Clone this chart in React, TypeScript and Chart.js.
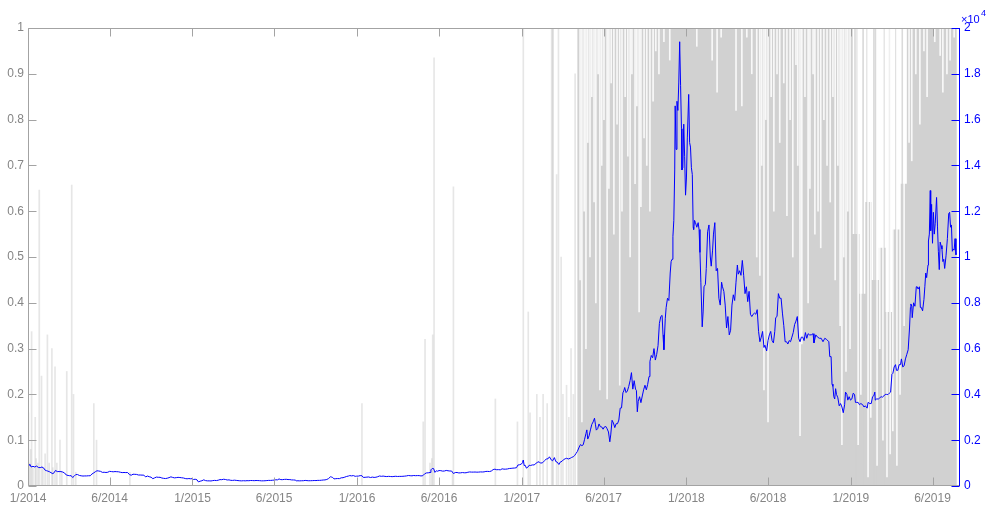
import React, { useEffect, useRef } from 'react';
import { Chart, registerables } from 'chart.js';

Chart.register(...registerables);

// ---------------- data ----------------
const START_ISO = '2014-01-01';
const X_MAX_DAY = 2068;

const xTickDates = ['2014-01-01', '2014-07-01', '2015-01-01', '2015-07-01', '2016-01-01', '2016-07-01', '2017-01-01', '2017-07-01', '2018-01-01', '2018-07-01', '2019-01-01', '2019-07-01'];
const xTickLabels = ['1/2014', '6/2014', '1/2015', '6/2015', '1/2016', '6/2016', '1/2017', '6/2017', '1/2018', '6/2018', '1/2019', '6/2019'];

const leftTicks = [0, 0.1, 0.2, 0.3, 0.4, 0.5, 0.6, 0.7, 0.8, 0.9, 1];
const leftTickLabels = ['0', '0.1', '0.2', '0.3', '0.4', '0.5', '0.6', '0.7', '0.8', '0.9', '1'];
const rightTicks = [0, 2000, 4000, 6000, 8000, 10000, 12000, 14000, 16000, 18000, 20000];
const rightTickLabels = ['0', '0.2', '0.4', '0.6', '0.8', '1', '1.2', '1.4', '1.6', '1.8', '2'];

// price (right axis), [MM-DD, value]
const btc2014: [string, number][] = [
  ['01-01', 815], ['01-05', 950], ['01-08', 830], ['01-12', 860], ['01-16', 830], ['01-20', 870], ['01-24', 810], ['01-28', 800],
  ['02-01', 830], ['02-05', 780], ['02-08', 690], ['02-11', 670], ['02-14', 650], ['02-18', 620], ['02-21', 580], ['02-25', 540], ['02-28', 580],
  ['03-03', 680], ['03-07', 630], ['03-11', 630], ['03-15', 630], ['03-19', 610], ['03-23', 570], ['03-27', 480], ['03-31', 460],
  ['04-03', 450], ['04-07', 450], ['04-10', 370], ['04-13', 420], ['04-17', 500], ['04-21', 500], ['04-25', 460], ['04-29', 445],
  ['05-03', 435], ['05-07', 440], ['05-11', 440], ['05-15', 447], ['05-19', 447], ['05-23', 525], ['05-27', 575], ['05-31', 630],
  ['06-03', 665], ['06-07', 655], ['06-11', 640], ['06-15', 595], ['06-19', 600], ['06-23', 590], ['06-27', 600],
  ['07-01', 640], ['07-05', 630], ['07-09', 620], ['07-13', 630], ['07-17', 625], ['07-21', 620], ['07-25', 600], ['07-29', 585],
  ['08-02', 590], ['08-06', 585], ['08-10', 590], ['08-14', 500], ['08-18', 470], ['08-22', 515], ['08-26', 510], ['08-30', 505],
  ['09-03', 480], ['09-07', 480], ['09-11', 475], ['09-15', 475], ['09-19', 395], ['09-23', 435], ['09-27', 405],
  ['10-01', 385], ['10-05', 320], ['10-09', 355], ['10-13', 390], ['10-17', 380], ['10-21', 380], ['10-25', 350], ['10-29', 335],
  ['11-02', 325], ['11-06', 340], ['11-10', 365], ['11-14', 400], ['11-18', 375], ['11-22', 355], ['11-26', 365], ['11-30', 378],
  ['12-04', 370], ['12-08', 360], ['12-12', 350], ['12-16', 325], ['12-20', 315], ['12-24', 325], ['12-28', 315], ['12-31', 320],
];
const btc2015: [string, number][] = [
  ['01-03', 285], ['01-07', 295], ['01-11', 270], ['01-14', 180], ['01-18', 210], ['01-22', 230], ['01-26', 270], ['01-30', 235],
  ['02-03', 225], ['02-07', 225], ['02-11', 220], ['02-15', 235], ['02-19', 245], ['02-23', 237], ['02-27', 253],
  ['03-03', 280], ['03-07', 275], ['03-11', 295], ['03-15', 285], ['03-19', 262], ['03-23', 268], ['03-27', 247], ['03-31', 244],
  ['04-04', 254], ['04-08', 245], ['04-12', 236], ['04-16', 228], ['04-20', 224], ['04-24', 231], ['04-28', 225],
  ['05-02', 233], ['05-06', 230], ['05-10', 240], ['05-14', 237], ['05-18', 233], ['05-22', 240], ['05-26', 237], ['05-30', 233],
  ['06-03', 225], ['06-07', 226], ['06-11', 229], ['06-15', 237], ['06-19', 245], ['06-23', 244], ['06-27', 250],
  ['07-01', 258], ['07-05', 271], ['07-09', 270], ['07-12', 310], ['07-16', 278], ['07-20', 278], ['07-24', 288], ['07-28', 293],
  ['08-01', 281], ['08-05', 281], ['08-09', 265], ['08-13', 264], ['08-17', 258], ['08-19', 226], ['08-23', 228], ['08-27', 224], ['08-31', 229],
  ['09-04', 230], ['09-08', 244], ['09-12', 235], ['09-16', 229], ['09-20', 231], ['09-24', 234], ['09-28', 239],
  ['10-02', 237], ['10-06', 246], ['10-10', 245], ['10-14', 252], ['10-18', 262], ['10-22', 266], ['10-26', 285], ['10-30', 326],
  ['11-03', 402], ['11-05', 395], ['11-08', 373], ['11-11', 310], ['11-15', 320], ['11-19', 325], ['11-23', 322], ['11-27', 357],
  ['12-01', 362], ['12-05', 388], ['12-09', 417], ['12-13', 435], ['12-16', 455], ['12-20', 442], ['12-24', 455], ['12-28', 423], ['12-31', 430],
];
const btc2016: [string, number][] = [
  ['01-04', 433], ['01-08', 453], ['01-12', 449], ['01-15', 375], ['01-19', 380], ['01-23', 388], ['01-27', 395], ['01-31', 369],
  ['02-04', 389], ['02-08', 374], ['02-12', 383], ['02-16', 405], ['02-20', 438], ['02-24', 423], ['02-28', 433],
  ['03-03', 420], ['03-07', 412], ['03-11', 421], ['03-15', 416], ['03-19', 408], ['03-23', 418], ['03-27', 425], ['03-31', 416],
  ['04-04', 420], ['04-08', 420], ['04-12', 424], ['04-16', 431], ['04-20', 441], ['04-24', 459], ['04-28', 449],
  ['05-02', 444], ['05-06', 459], ['05-10', 450], ['05-14', 455], ['05-18', 454], ['05-22', 439], ['05-26', 449], ['05-30', 530],
  ['06-03', 570], ['06-07', 575], ['06-11', 590], ['06-13', 705], ['06-16', 765], ['06-19', 760], ['06-22', 595], ['06-25', 665], ['06-28', 645],
  ['07-01', 675], ['07-05', 670], ['07-09', 650], ['07-13', 655], ['07-17', 680], ['07-21', 665], ['07-25', 655], ['07-29', 655],
  ['08-02', 545], ['08-06', 587], ['08-10', 590], ['08-14', 570], ['08-18', 575], ['08-22', 587], ['08-26', 577], ['08-30', 578],
  ['09-03', 600], ['09-07', 614], ['09-11', 607], ['09-15', 607], ['09-19', 610], ['09-23', 604], ['09-27', 607],
  ['10-01', 615], ['10-05', 612], ['10-09', 617], ['10-13', 636], ['10-17', 638], ['10-21', 631], ['10-25', 653], ['10-29', 715],
  ['11-02', 735], ['11-06', 710], ['11-10', 715], ['11-14', 705], ['11-18', 750], ['11-22', 735], ['11-26', 735], ['11-30', 745],
  ['12-04', 765], ['12-08', 770], ['12-12', 780], ['12-16', 785], ['12-20', 800], ['12-23', 915], ['12-27', 930], ['12-31', 960],
];
const btc2017: [string, number][] = [
  ['01-02', 1020], ['01-04', 1135], ['01-06', 890], ['01-08', 910], ['01-11', 780], ['01-14', 820], ['01-17', 905], ['01-20', 895], ['01-24', 920], ['01-28', 920],
  ['02-01', 985], ['02-04', 1030], ['02-08', 1060], ['02-11', 1000], ['02-15', 1010], ['02-18', 1055], ['02-21', 1120], ['02-24', 1180], ['02-28', 1190],
  ['03-03', 1275], ['03-07', 1140], ['03-10', 1100], ['03-14', 1240], ['03-17', 1070], ['03-20', 1045], ['03-24', 940], ['03-27', 1045], ['03-31', 1080],
  ['04-03', 1145], ['04-07', 1190], ['04-10', 1210], ['04-14', 1180], ['04-18', 1210], ['04-21', 1245], ['04-25', 1280], ['04-28', 1330],
  ['05-01', 1420], ['05-04', 1510], ['05-08', 1700], ['05-11', 1810], ['05-14', 1760], ['05-17', 1800], ['05-20', 2040], ['05-23', 2290], ['05-25', 2450], ['05-27', 2050], ['05-30', 2190],
  ['06-02', 2450], ['06-05', 2690], ['06-08', 2800], ['06-11', 2960], ['06-13', 2700], ['06-15', 2440], ['06-18', 2500], ['06-21', 2710], ['06-24', 2590], ['06-27', 2580], ['06-30', 2480],
  ['07-03', 2580], ['07-06', 2600], ['07-09', 2500], ['07-12', 2360], ['07-15', 1930], ['07-17', 2230], ['07-20', 2870], ['07-23', 2750], ['07-26', 2550], ['07-29', 2720],
  ['08-01', 2720], ['08-04', 2880], ['08-07', 3400], ['08-10', 3410], ['08-13', 4070], ['08-15', 4150], ['08-17', 4300], ['08-20', 4080], ['08-23', 4150], ['08-26', 4350], ['08-29', 4600],
  ['09-01', 4950], ['09-04', 4230], ['09-07', 4600], ['09-10', 4230], ['09-12', 4170], ['09-14', 3240], ['09-16', 3700], ['09-19', 3900], ['09-22', 3640], ['09-25', 3930], ['09-28', 4200],
  ['10-01', 4400], ['10-04', 4200], ['10-07', 4440], ['10-10', 4780], ['10-12', 5440], ['10-15', 5700], ['10-18', 5600], ['10-21', 6000], ['10-24', 5500], ['10-27', 5750], ['10-30', 6130],
  ['11-02', 7100], ['11-05', 7400], ['11-08', 7450], ['11-10', 6600], ['11-12', 5950], ['11-15', 7300], ['11-17', 7800], ['11-20', 8200], ['11-23', 8100], ['11-26', 9300], ['11-28', 9800], ['11-30', 9900],
  ['12-02', 10900], ['12-04', 11600], ['12-06', 13800], ['12-07', 16600], ['12-09', 14700], ['12-11', 16800], ['12-13', 16400], ['12-15', 17600], ['12-17', 19400], ['12-19', 17500],
  ['12-21', 15600], ['12-22', 13800], ['12-24', 13900], ['12-26', 15800], ['12-28', 14400], ['12-30', 12700],
];
const btc2018: [string, number][] = [
  ['01-01', 13450], ['01-03', 15200], ['01-06', 17100], ['01-08', 15000], ['01-10', 14800], ['01-12', 13900], ['01-14', 13600], ['01-16', 11300], ['01-17', 11200],
  ['01-19', 11600], ['01-21', 11500], ['01-24', 11300], ['01-27', 11500], ['01-29', 11200], ['01-31', 10200],
  ['02-02', 8900], ['02-05', 6950], ['02-07', 7600], ['02-09', 8700], ['02-12', 8800], ['02-14', 9500], ['02-17', 11100], ['02-20', 11400], ['02-23', 10000], ['02-25', 9600], ['02-28', 10300],
  ['03-02', 11000], ['03-05', 11500], ['03-08', 9400], ['03-11', 9500], ['03-14', 8200], ['03-17', 7900], ['03-20', 8900], ['03-22', 8700], ['03-25', 8500], ['03-28', 7900], ['03-31', 6900],
  ['04-03', 7400], ['04-06', 6600], ['04-09', 6800], ['04-12', 7900], ['04-15', 8350], ['04-18', 8100], ['04-21', 8900], ['04-24', 9650], ['04-26', 9250], ['04-29', 9400],
  ['05-02', 9200], ['05-05', 9850], ['05-08', 9200], ['05-11', 8400], ['05-14', 8700], ['05-17', 8050], ['05-20', 8500], ['05-23', 7500], ['05-26', 7400], ['05-29', 7500],
  ['06-01', 7550], ['06-04', 7500], ['06-07', 7700], ['06-10', 6750], ['06-13', 6300], ['06-16', 6500], ['06-19', 6750], ['06-22', 6050], ['06-24', 6150], ['06-28', 5900],
  ['07-01', 6350], ['07-04', 6600], ['07-07', 6750], ['07-10', 6350], ['07-13', 6250], ['07-16', 6750], ['07-18', 7350], ['07-21', 7400], ['07-24', 8400], ['07-27', 8200], ['07-30', 8200],
  ['08-02', 7550], ['08-05', 7000], ['08-08', 6300], ['08-11', 6300], ['08-14', 6200], ['08-17', 6350], ['08-20', 6300], ['08-23', 6500], ['08-26', 6700], ['08-29', 7050],
  ['09-01', 7200], ['09-04', 7400], ['09-07', 6450], ['09-10', 6300], ['09-13', 6500], ['09-16', 6500], ['09-19', 6350], ['09-22', 6700], ['09-25', 6450], ['09-28', 6650],
  ['10-01', 6600], ['10-05', 6600], ['10-09', 6650], ['10-11', 6250], ['10-15', 6600], ['10-19', 6500], ['10-23', 6450], ['10-27', 6450], ['10-31', 6300],
  ['11-04', 6450], ['11-08', 6400], ['11-13', 6300], ['11-15', 5650], ['11-18', 5650], ['11-20', 4450], ['11-22', 4350], ['11-24', 3900], ['11-26', 3800], ['11-28', 4250], ['11-30', 4000],
  ['12-03', 3850], ['12-06', 3500], ['12-09', 3600], ['12-12', 3450], ['12-15', 3200], ['12-18', 3550], ['12-20', 4100], ['12-23', 4000], ['12-25', 3750], ['12-28', 3900], ['12-31', 3750],
];
const btc2019: [string, number][] = [
  ['01-03', 3800], ['01-06', 4050], ['01-09', 4000], ['01-11', 3650], ['01-14', 3650], ['01-17', 3650], ['01-20', 3550], ['01-23', 3600], ['01-27', 3550], ['01-30', 3450],
  ['02-02', 3500], ['02-06', 3400], ['02-08', 3650], ['02-12', 3600], ['02-15', 3600], ['02-18', 3900], ['02-21', 3950], ['02-23', 4100], ['02-24', 3750], ['02-27', 3800],
  ['03-03', 3800], ['03-06', 3850], ['03-09', 3900], ['03-12', 3880], ['03-15', 3930], ['03-18', 4000], ['03-21', 4000], ['03-24', 3990], ['03-27', 4050], ['03-30', 4100],
  ['04-02', 4880], ['04-04', 4920], ['04-07', 5200], ['04-10', 5300], ['04-12', 5050], ['04-15', 5050], ['04-18', 5300], ['04-21', 5300], ['04-23', 5550], ['04-26', 5200], ['04-29', 5250],
  ['05-02', 5550], ['05-05', 5750], ['05-08', 5950], ['05-11', 6900], ['05-13', 7800], ['05-14', 7950], ['05-16', 7850], ['05-17', 7350], ['05-20', 8000], ['05-23', 7850], ['05-26', 8700], ['05-28', 8700], ['05-30', 8600],
  ['06-02', 8700], ['06-04', 7800], ['06-06', 7800], ['06-09', 7650], ['06-12', 8150], ['06-14', 8700], ['06-16', 9300], ['06-18', 9100], ['06-21', 9650], ['06-22', 10700], ['06-24', 11000], ['06-26', 12900], ['06-27', 11150], ['06-29', 12300],
  ['07-01', 10600], ['07-03', 11950], ['07-05', 11000], ['07-07', 11450], ['07-10', 12600], ['07-12', 11350], ['07-14', 10250], ['07-16', 9450], ['07-18', 10650], ['07-20', 10500], ['07-22', 10350], ['07-24', 9800], ['07-26', 9900], ['07-28', 9500], ['07-31', 10050],
  ['08-03', 10800], ['08-06', 11900], ['08-08', 11950], ['08-10', 11300], ['08-12', 11400], ['08-14', 10250], ['08-16', 10350], ['08-18', 10300], ['08-20', 10800], ['08-22', 10100], ['08-23', 10150],
];

// left-axis grey series: stepped base level [day, level]
const greyLevels: [number, number][] = [
  [0, 0], [1219, 1], [1830, 0.55], [1845, 0.42], [1858, 0.62], [1872, 0.45], [1888, 0.52], [1903, 0.38], [1918, 0.56], [1935, 0.66], [1950, 1], [2061, 1],
];
// isolated grey spikes from 0 [day, height]
const greySpikeDays = [1, 3, 6, 8, 11, 16, 18, 22, 25, 30, 33, 38, 43, 47, 53, 55, 60, 64, 71, 75, 86, 97, 101, 106, 146, 152, 226, 741, 877, 881, 892, 896, 898, 901, 942, 944, 1037, 1086, 1099, 1110, 1114, 1129, 1136, 1143, 1152, 1162, 1164, 1165, 1173, 1177, 1183, 1187, 1195, 1200, 1205, 1210, 1214];
const greySpikeHeights = [0.16, 0.05, 0.08, 0.337, 0.04, 0.15, 0.06, 0.05, 0.646, 0.24, 0.04, 0.07, 0.33, 0.05, 0.3, 0.04, 0.26, 0.05, 0.1, 0.03, 0.25, 0.657, 0.2, 0.03, 0.18, 0.1, 0.03, 0.18, 0.14, 0.32, 0.05, 0.06, 0.33, 0.935, 0.03, 0.653, 0.19, 0.14, 1, 0.38, 0.16, 0.2, 0.15, 0.2, 0.18, 1, 1, 1, 0.68, 1, 0.5, 0.2, 0.22, 0.15, 0.3, 0.2, 0.9];
// grey days reaching the top inside the low-level stretch of 2019
const greyTopDays = [1835, 1840, 1853, 1862, 1877, 1881, 1899, 1912, 1926, 1940];
// white gaps (values below 1) inside the grey block [day, value]
const gapDays = [1225, 1229, 1234, 1238, 1242, 1247, 1251, 1256, 1260, 1265, 1269, 1273, 1278, 1285, 1289, 1294, 1300, 1307, 1313, 1318, 1325, 1331, 1336, 1340, 1347, 1351, 1356, 1360, 1367, 1373, 1380, 1387, 1393, 1400, 1411, 1424, 1484, 1518, 1529, 1538, 1571, 1584, 1595, 1606, 1617, 1624, 1628, 1633, 1637, 1642, 1649, 1655, 1662, 1668, 1677, 1684, 1691, 1697, 1704, 1708, 1713, 1717, 1724, 1731, 1735, 1742, 1746, 1753, 1759, 1766, 1773, 1780, 1786, 1791, 1797, 1802, 1806, 1810, 1815, 1819, 1824, 1842, 1848, 1864, 1870, 1884, 1890, 1897, 1906, 1913, 1919, 1928, 1935, 1944, 1955, 1961, 1970, 1979, 1988, 1995, 2012, 2024, 2030, 2039, 2046, 2055];
const gapValues = [0.45, 0.14, 0.6, 0.3, 0.75, 0.5, 0.85, 0.62, 0.4, 0.9, 0.21, 0.7, 0.8, 0.19, 0.65, 0.88, 0.55, 0.79, 0.22, 0.6, 0.85, 0.72, 0.5, 0.9, 0.66, 0.83, 0.38, 0.61, 0.76, 0.7, 0.6, 0.84, 0.95, 0.9, 0.97, 0.93, 0.96, 0.93, 0.86, 0.98, 0.82, 0.83, 0.98, 0.9, 0.5, 0.46, 0.7, 0.21, 0.8, 0.14, 0.85, 0.6, 0.9, 0.75, 0.88, 0.59, 0.8, 0.5, 0.92, 0.7, 0.11, 0.31, 0.85, 0.4, 0.65, 0.9, 0.55, 0.6, 0.52, 0.8, 0.7, 0.62, 0.85, 0.45, 0.7, 0.35, 0.09, 0.5, 0.25, 0.6, 0.3, 0.09, 0.2, 0.02, 0.15, 0.045, 0.3, 0.1, 0.02, 0.07, 0.12, 0.045, 0.2, 0.35, 0.75, 0.71, 0.9, 0.79, 0.95, 0.85, 0.97, 0.94, 0.86, 0.9, 0.93, 0.98];

// ---------------- helpers ----------------
const DAY_MS = 86400000;
const START_MS = Date.parse(START_ISO + 'T00:00:00Z');
const dayIndex = (iso: string) => Math.round((Date.parse(iso + 'T00:00:00Z') - START_MS) / DAY_MS);
const xTickDays = xTickDates.map(dayIndex);

const priceYears: [number, [string, number][]][] = [[2014, btc2014], [2015, btc2015], [2016, btc2016], [2017, btc2017], [2018, btc2018], [2019, btc2019]];
const pricePoints = priceYears.flatMap(([yr, arr]) => arr.map(([md, v]) => ({ x: dayIndex(`${yr}-${md}`), y: v })));

const FONT = { family: "'Liberation Sans', Arial, Helvetica, sans-serif", size: 12 };
const GREY = '#d1d1d1';
const AXIS = '#a3a3a3';
const LABEL = '#858585';
const BLUE = '#0000ff';

const axesPlugin = {
  id: 'matlabAxes',
  afterDatasetsDraw(chart: any) {
    const { ctx, chartArea: a, scales } = chart;
    const L = a.left + 0.5, R = a.right - 0.5, T = a.top + 0.5, B = a.bottom - 0.5;
    const TL = 8;
    ctx.save();
    ctx.lineWidth = 1;
    ctx.strokeStyle = AXIS;
    ctx.beginPath();
    ctx.moveTo(L, B); ctx.lineTo(R, B);
    ctx.moveTo(L, T); ctx.lineTo(R, T);
    ctx.moveTo(L, T); ctx.lineTo(L, B);
    for (const d of xTickDays) {
      const px = Math.round(scales.x.getPixelForValue(d)) + 0.5;
      ctx.moveTo(px, B); ctx.lineTo(px, B - TL);
      ctx.moveTo(px, T); ctx.lineTo(px, T + TL);
    }
    for (const v of leftTicks) {
      const py = Math.round(scales.yL.getPixelForValue(v)) + 0.5;
      ctx.moveTo(L, py); ctx.lineTo(L + TL, py);
    }
    ctx.stroke();
    ctx.strokeStyle = BLUE;
    ctx.beginPath();
    ctx.moveTo(R, T - 0.5); ctx.lineTo(R, B + 0.5);
    for (const v of rightTicks) {
      const py = Math.round(scales.yR.getPixelForValue(v)) + 0.5;
      ctx.moveTo(R, py); ctx.lineTo(R - TL, py);
    }
    ctx.stroke();
    // exponent label
    ctx.fillStyle = BLUE;
    ctx.textBaseline = 'alphabetic';
    ctx.textAlign = 'left';
    ctx.font = `11px ${FONT.family}`;
    ctx.fillText('×10', a.right + 1, 23);
    ctx.font = `9px ${FONT.family}`;
    ctx.fillText('4', a.right + 21, 16);
    ctx.restore();
  },
};

export default function App() {
  const ref = useRef<HTMLCanvasElement>(null);
  useEffect(() => {
    if (!ref.current) return;
    const chart = new Chart(ref.current, {
      type: 'line',
      data: {
        datasets: [
          {
            type: 'line',
            label: 'price',
            data: pricePoints,
            yAxisID: 'yR',
            borderColor: BLUE,
            borderWidth: 1,
            pointRadius: 0,
            tension: 0,
            fill: false,
            order: 1,
          } as any,
          {
            type: 'bar',
            label: 'gaps',
            data: gapDays.map((d, i) => ({ x: d, y: [gapValues[i], 1] })),
            yAxisID: 'yL',
            backgroundColor: 'rgba(255,255,255,0.85)',
            borderWidth: 0,
            barThickness: 1,
            grouped: false,
            order: 3,
          } as any,
          {
            type: 'bar',
            label: 'tops',
            data: greyTopDays.map((d) => ({ x: d, y: [0, 1] })),
            yAxisID: 'yL',
            backgroundColor: 'rgba(209,209,209,0.8)',
            borderWidth: 0,
            barThickness: 1,
            grouped: false,
            order: 4,
          } as any,
          {
            type: 'bar',
            label: 'spikes',
            data: greySpikeDays.map((d, i) => ({ x: d, y: greySpikeHeights[i] })),
            yAxisID: 'yL',
            backgroundColor: 'rgba(200,200,200,0.45)',
            borderWidth: 0,
            barThickness: 1,
            grouped: false,
            order: 4,
          } as any,
          {
            type: 'line',
            label: 'level',
            data: greyLevels.map(([d, v]) => ({ x: d, y: v })),
            yAxisID: 'yL',
            stepped: 'before',
            fill: 'origin',
            backgroundColor: GREY,
            borderColor: 'rgba(0,0,0,0)',
            borderWidth: 0,
            pointRadius: 0,
            order: 5,
          } as any,
        ],
      },
      options: {
        responsive: false,
        animation: false,
        events: [],
        layout: { padding: { top: 28, left: 0, right: 0, bottom: 0 } },
        plugins: { legend: { display: false }, tooltip: { enabled: false } },
        scales: {
          x: {
            type: 'linear',
            position: 'bottom',
            min: 0,
            max: X_MAX_DAY,
            offset: false,
            grid: { display: false, drawTicks: false },
            border: { display: false },
            afterBuildTicks: (s: any) => { s.ticks = xTickDays.map((v) => ({ value: v })); },
            afterFit: (s: any) => { s.height = 19; },
            ticks: {
              autoSkip: false,
              maxRotation: 0,
              minRotation: 0,
              padding: 5,
              color: LABEL,
              font: FONT,
              callback: (v: any) => { const i = xTickDays.indexOf(Number(v)); return i >= 0 ? xTickLabels[i] : ''; },
            },
          },
          yL: {
            type: 'linear',
            position: 'left',
            min: 0,
            max: 1,
            grid: { display: false, drawTicks: false },
            border: { display: false },
            afterBuildTicks: (s: any) => { s.ticks = leftTicks.map((v) => ({ value: v })); },
            afterFit: (s: any) => { s.width = 28; },
            ticks: {
              padding: 4,
              color: LABEL,
              font: FONT,
              callback: (v: any) => { const i = leftTicks.indexOf(Number(v)); return i >= 0 ? leftTickLabels[i] : ''; },
            },
          },
          yR: {
            type: 'linear',
            position: 'right',
            min: 0,
            max: 20000,
            grid: { display: false, drawTicks: false },
            border: { display: false },
            afterBuildTicks: (s: any) => { s.ticks = rightTicks.map((v) => ({ value: v })); },
            afterFit: (s: any) => { s.width = 31; },
            ticks: {
              padding: 4,
              color: BLUE,
              font: FONT,
              callback: (v: any) => { const i = rightTicks.indexOf(Number(v)); return i >= 0 ? rightTickLabels[i] : ''; },
            },
          },
        },
      } as any,
      plugins: [axesPlugin],
    });
    return () => chart.destroy();
  }, []);
  return (
    <div style={{ position: 'fixed', left: 0, top: 0, width: 991, height: 505, background: '#ffffff' }}>
      <canvas ref={ref} width={991} height={505} style={{ display: 'block', width: 991, height: 505 }} />
    </div>
  );
}
